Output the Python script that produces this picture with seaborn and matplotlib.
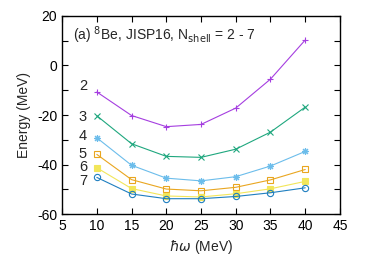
import seaborn as sns
import matplotlib.pyplot as plt
import pandas as pd

hw = [10, 15, 20, 25, 30, 35, 40]
e_n2 = [-10.7, -20.2, -24.7, -23.8, -17.2, -5.5, 10.3]
e_n3 = [-20.3, -31.6, -36.7, -37.1, -33.8, -26.9, -16.8]
e_n4 = [-29.2, -40.3, -45.5, -46.6, -44.9, -40.6, -34.7]
e_n5 = [-35.9, -46.1, -49.9, -50.6, -49.2, -46.2, -42.0]
e_n6 = [-41.3, -49.7, -52.7, -53.1, -51.8, -49.8, -46.8]
e_n7 = [-45.2, -51.9, -53.8, -53.8, -52.9, -51.4, -49.4]
nshell = ['2', '3', '4', '5', '6', '7']
label_y = [-8.3, -20.8, -28.6, -35.6, -40.8, -46.6]

sns.set_style('ticks')
plt.rcParams['font.family'] = ['Liberation Sans', 'DejaVu Sans']
plt.rcParams['mathtext.fontset'] = 'dejavusans'

series = [e_n2, e_n3, e_n4, e_n5, e_n6, e_n7]
colors = ['#a53ee0', '#1fa77e', '#6cbdeb', '#e9a620', '#f2e65a', '#1f7fc0']
markers = ['+', 'x', (8, 2, 0), 's', 's', 'o']
filled = [True, True, True, False, True, False]
msizes = [5, 5, 5, 4.3, 4.3, 4.5]

fig = plt.figure(figsize=(3.74, 2.62), dpi=100)
ax = fig.add_axes([0.166, 0.183, 0.743, 0.756])

for n, e, c, m, f, ms in zip(nshell, series, colors, markers, filled, msizes):
    df = pd.DataFrame({'hw': hw, 'E': e})
    sns.lineplot(data=df, x='hw', y='E', ax=ax, color=c, linewidth=0.8,
                 marker=m, markersize=ms, markeredgewidth=0.8,
                 markerfacecolor=(c if f else 'none'), markeredgecolor=c)

for n, y in zip(nshell, label_y):
    ax.text(8.0, y, n, fontsize=10.5, ha='center', va='center')

ax.text(6.5, 12.3, r'(a) $^{8}$Be, JISP16, N$_{\rm shell}$ = 2 - 7',
        fontsize=10, ha='left', va='center')

ax.set_xlim(5, 45)
ax.set_ylim(-60, 20)
ax.set_xticks(range(5, 46, 5))
ax.set_yticks(range(-60, 21, 10))
ax.set_yticklabels([str(v) if v % 20 == 0 else '' for v in range(-60, 21, 10)])
ax.tick_params(direction='in', top=True, right=True, length=4, width=0.8,
               labelsize=10, colors='black')
for s in ax.spines.values():
    s.set_linewidth(1.0)
    s.set_color('black')
ax.set_xlabel(r'$\hbar\omega$ (MeV)', fontsize=10)
ax.set_ylabel('Energy (MeV)', fontsize=10)

fig.savefig('out.png', dpi=100)
